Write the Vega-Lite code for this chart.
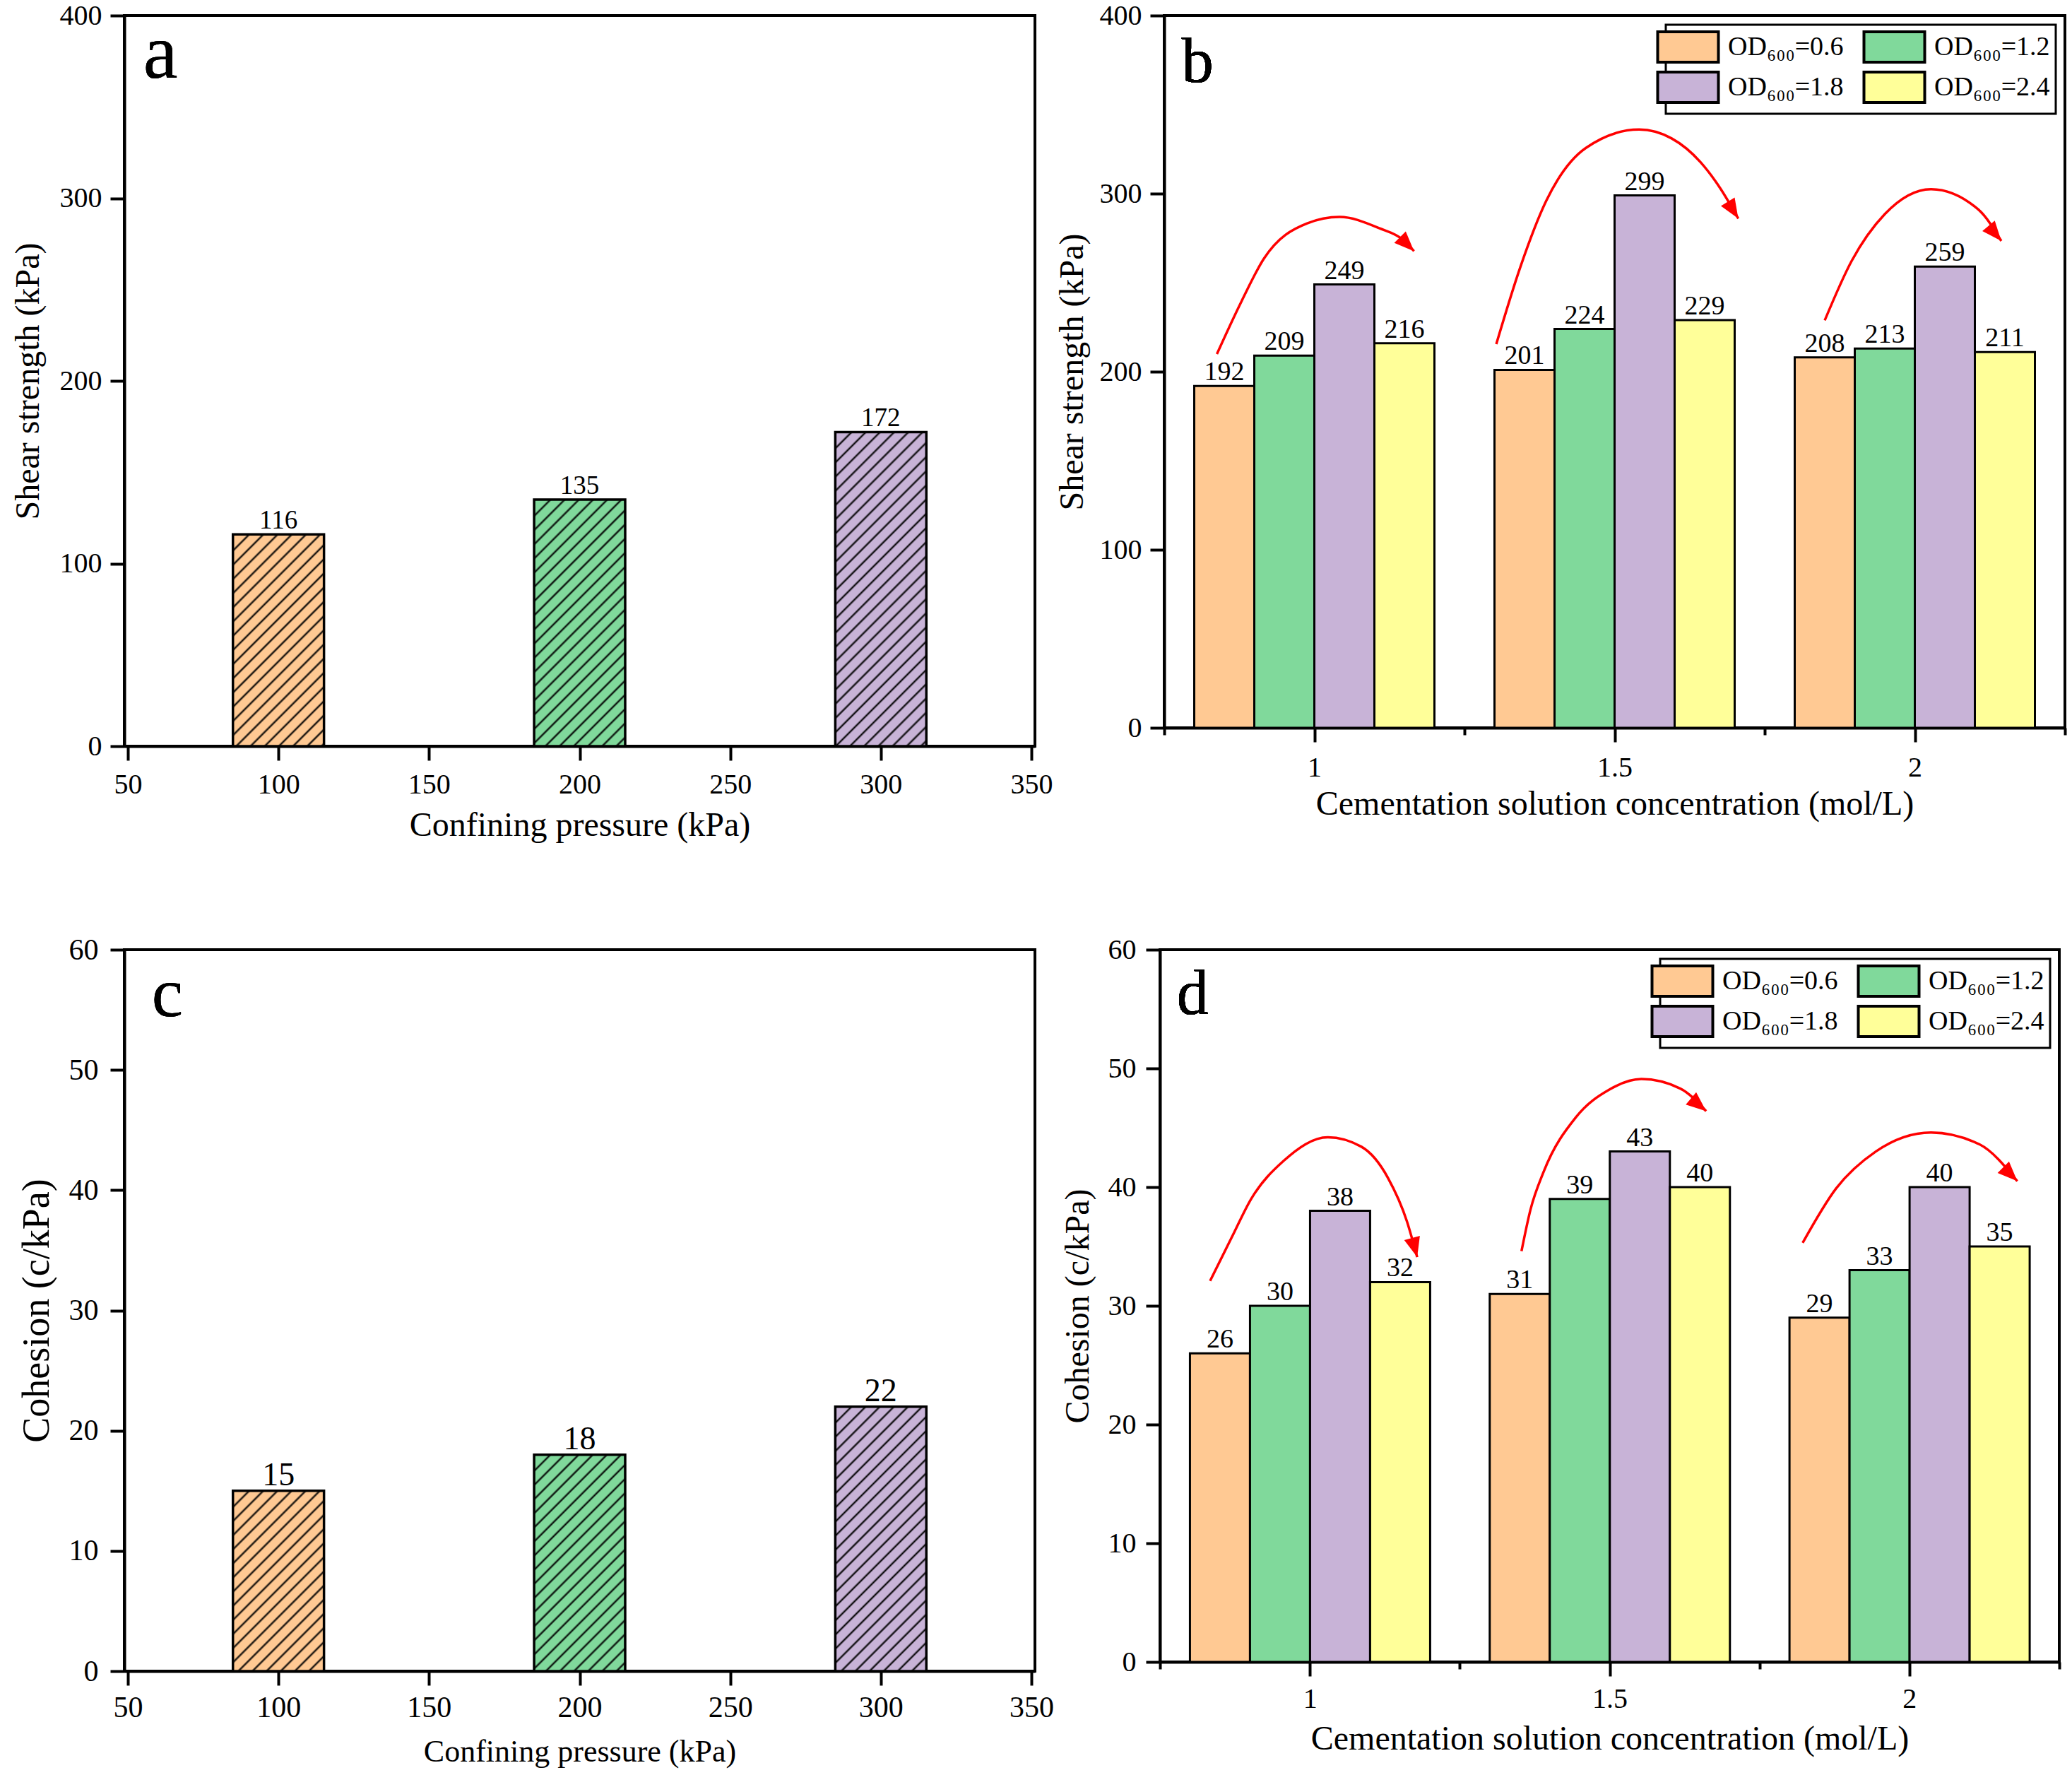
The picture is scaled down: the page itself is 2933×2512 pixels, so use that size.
{
  "$schema": "https://vega.github.io/schema/vega-lite/v6.json",
  "background": "white",
  "padding": {"left": 14, "top": 0, "right": 0, "bottom": 0},
  "config": {
    "font": "Liberation Serif",
    "view": {"stroke": "#000", "strokeWidth": 4},
    "axis": {
      "domainColor": "#000", "domainWidth": 4, "tickColor": "#000", "tickWidth": 4, "tickSize": 20,
      "labelFont": "Liberation Serif", "labelFontSize": 40, "labelColor": "#000",
      "titleFont": "Liberation Serif", "titleFontSize": 48, "titleFontWeight": "normal", "titleColor": "#000",
      "grid": false, "labelFlush": false, "labelOverlap": false
    },
    "legend": {
      "labelFont": "Liberation Serif", "labelFontSize": 38, "labelColor": "#000", "labelLimit": 400,
      "strokeColor": "#000", "strokeWidth": 3, "fillColor": "#fff", "padding": 8,
      "symbolStrokeColor": "#000", "symbolStrokeWidth": 4, "symbolOpacity": 1
    },
    "text": {"font": "Liberation Serif", "color": "#000"}
  },
  "datasets": {
    "shear": [{"p": 100, "v": 116}, {"p": 200, "v": 135}, {"p": 300, "v": 172}],
    "coh": [{"p": 100, "v": 15}, {"p": 200, "v": 18}, {"p": 300, "v": 22}],
    "shearOD": [
      {"c": "1", "od": "0.6", "v": 192}, {"c": "1", "od": "1.2", "v": 209}, {"c": "1", "od": "1.8", "v": 249}, {"c": "1", "od": "2.4", "v": 216},
      {"c": "1.5", "od": "0.6", "v": 201}, {"c": "1.5", "od": "1.2", "v": 224}, {"c": "1.5", "od": "1.8", "v": 299}, {"c": "1.5", "od": "2.4", "v": 229},
      {"c": "2", "od": "0.6", "v": 208}, {"c": "2", "od": "1.2", "v": 213}, {"c": "2", "od": "1.8", "v": 259}, {"c": "2", "od": "2.4", "v": 211}
    ],
    "cohOD": [
      {"c": "1", "od": "0.6", "v": 26}, {"c": "1", "od": "1.2", "v": 30}, {"c": "1", "od": "1.8", "v": 38}, {"c": "1", "od": "2.4", "v": 32},
      {"c": "1.5", "od": "0.6", "v": 31}, {"c": "1.5", "od": "1.2", "v": 39}, {"c": "1.5", "od": "1.8", "v": 43}, {"c": "1.5", "od": "2.4", "v": 40},
      {"c": "2", "od": "0.6", "v": 29}, {"c": "2", "od": "1.2", "v": 33}, {"c": "2", "od": "1.8", "v": 40}, {"c": "2", "od": "2.4", "v": 35}
    ],
    "shearArrows": [
      {"a": 1, "x": 0.8377, "v": 209.9}, {"a": 1, "x": 0.879, "v": 239.7}, {"a": 1, "x": 0.916, "v": 263.5}, {"a": 1, "x": 0.988, "v": 283.3}, {"a": 1, "x": 1.042, "v": 286.9}, {"a": 1, "x": 1.108, "v": 280.6}, {"a": 1, "x": 1.148, "v": 274}, {"a": 1, "x": 1.166, "v": 267.7},
      {"a": 2, "x": 1.303, "v": 215.5}, {"a": 2, "x": 1.343, "v": 258.7}, {"a": 2, "x": 1.386, "v": 295.8}, {"a": 2, "x": 1.452, "v": 325.6}, {"a": 2, "x": 1.541, "v": 336}, {"a": 2, "x": 1.595, "v": 331}, {"a": 2, "x": 1.643, "v": 317.7}, {"a": 2, "x": 1.676, "v": 303}, {"a": 2, "x": 1.706, "v": 286},
      {"a": 3, "x": 1.85, "v": 228.8}, {"a": 3, "x": 1.895, "v": 262.3}, {"a": 3, "x": 1.95, "v": 288.5}, {"a": 3, "x": 2.027, "v": 302.5}, {"a": 3, "x": 2.106, "v": 291}, {"a": 3, "x": 2.144, "v": 273.4}
    ],
    "shearHeads": [
      {"a": 1, "x": 1.166, "v": 267.7, "dir": 45}, {"a": 2, "x": 1.706, "v": 286, "dir": 58}, {"a": 3, "x": 2.144, "v": 273.4, "dir": 50}
    ],
    "cohArrows": [
      {"a": 1, "x": 0.8336, "v": 32.1}, {"a": 1, "x": 0.87, "v": 35.8}, {"a": 1, "x": 0.902, "v": 39}, {"a": 1, "x": 0.956, "v": 42.2}, {"a": 1, "x": 1.03, "v": 44.2}, {"a": 1, "x": 1.086, "v": 43.4}, {"a": 1, "x": 1.13, "v": 40.8}, {"a": 1, "x": 1.162, "v": 37.1}, {"a": 1, "x": 1.179, "v": 34.1},
      {"a": 2, "x": 1.353, "v": 34.6}, {"a": 2, "x": 1.368, "v": 38.1}, {"a": 2, "x": 1.39, "v": 41.3}, {"a": 2, "x": 1.444, "v": 45.9}, {"a": 2, "x": 1.499, "v": 48.2}, {"a": 2, "x": 1.553, "v": 49.1}, {"a": 2, "x": 1.618, "v": 48.3}, {"a": 2, "x": 1.661, "v": 46.4},
      {"a": 3, "x": 1.822, "v": 35.3}, {"a": 3, "x": 1.878, "v": 39.9}, {"a": 3, "x": 1.944, "v": 43}, {"a": 3, "x": 2.036, "v": 44.6}, {"a": 3, "x": 2.117, "v": 43.6}, {"a": 3, "x": 2.18, "v": 40.5}
    ],
    "cohHeads": [
      {"a": 1, "x": 1.179, "v": 34.1, "dir": 75}, {"a": 2, "x": 1.661, "v": 46.4, "dir": 40}, {"a": 3, "x": 2.18, "v": 40.5, "dir": 45}
    ]
  },
  "spacing": 127,
  "resolve": {"scale": {"color": "independent"}, "legend": {"color": "independent"}},
  "vconcat": [
    {
      "spacing": 0,
      "resolve": {"scale": {"color": "independent"}, "legend": {"color": "independent"}},
      "hconcat": [
        {
          "width": 1289, "height": 1034,
          "data": {"name": "shear"},
          "encoding": {
            "x": {"field": "p", "type": "quantitative", "scale": {"domain": [50, 350], "nice": false, "zero": false},
                  "axis": {"values": [50, 100, 150, 200, 250, 300, 350], "title": "Confining pressure (kPa)", "labelPadding": 14, "titlePadding": 14}},
            "y": {"field": "v", "type": "quantitative", "scale": {"domain": [0, 400], "nice": false},
                  "axis": {"values": [0, 100, 200, 300, 400], "title": "Shear strength (kPa)", "labelPadding": 12, "titlePadding": 20}}
          },
          "layer": [
            {"mark": {"type": "bar", "width": 128.9},
             "encoding": {"color": {"field": "p", "type": "nominal", "scale": {"domain": [100, 200, 300], "range": ["#FFC993", "#80D99B", "#C8B3D7"]}, "legend": null}}},
            {"transform": [{"filter": "datum.p == 100"}],
             "mark": {"type": "bar", "width": 128.9, "stroke": "#000", "strokeWidth": 3.5,
                      "fill": {"gradient": "linear", "x1": 0, "y1": 0, "x2": 1.094, "y2": 2.546, "stops": [
{"offset":0.0222,"color":"transparent"},{"offset":0.0257,"color":"#000"},{"offset":0.0292,"color":"transparent"},
{"offset":0.0444,"color":"transparent"},{"offset":0.0479,"color":"#000"},{"offset":0.0514,"color":"transparent"},
{"offset":0.0667,"color":"transparent"},{"offset":0.0702,"color":"#000"},{"offset":0.0737,"color":"transparent"},
{"offset":0.0889,"color":"transparent"},{"offset":0.0924,"color":"#000"},{"offset":0.0959,"color":"transparent"},
{"offset":0.1111,"color":"transparent"},{"offset":0.1146,"color":"#000"},{"offset":0.1181,"color":"transparent"},
{"offset":0.1333,"color":"transparent"},{"offset":0.1368,"color":"#000"},{"offset":0.1403,"color":"transparent"},
{"offset":0.1556,"color":"transparent"},{"offset":0.1591,"color":"#000"},{"offset":0.1626,"color":"transparent"},
{"offset":0.1778,"color":"transparent"},{"offset":0.1813,"color":"#000"},{"offset":0.1848,"color":"transparent"},
{"offset":0.2,"color":"transparent"},{"offset":0.2035,"color":"#000"},{"offset":0.207,"color":"transparent"},
{"offset":0.2222,"color":"transparent"},{"offset":0.2257,"color":"#000"},{"offset":0.2292,"color":"transparent"},
{"offset":0.2444,"color":"transparent"},{"offset":0.2479,"color":"#000"},{"offset":0.2514,"color":"transparent"},
{"offset":0.2667,"color":"transparent"},{"offset":0.2702,"color":"#000"},{"offset":0.2737,"color":"transparent"},
{"offset":0.2889,"color":"transparent"},{"offset":0.2924,"color":"#000"},{"offset":0.2959,"color":"transparent"},
{"offset":0.3111,"color":"transparent"},{"offset":0.3146,"color":"#000"},{"offset":0.3181,"color":"transparent"},
{"offset":0.3333,"color":"transparent"},{"offset":0.3368,"color":"#000"},{"offset":0.3403,"color":"transparent"},
{"offset":0.3556,"color":"transparent"},{"offset":0.3591,"color":"#000"},{"offset":0.3626,"color":"transparent"},
{"offset":0.3778,"color":"transparent"},{"offset":0.3813,"color":"#000"},{"offset":0.3848,"color":"transparent"},
{"offset":0.4,"color":"transparent"},{"offset":0.4035,"color":"#000"},{"offset":0.407,"color":"transparent"},
{"offset":0.4222,"color":"transparent"},{"offset":0.4257,"color":"#000"},{"offset":0.4292,"color":"transparent"},
{"offset":0.4444,"color":"transparent"},{"offset":0.4479,"color":"#000"},{"offset":0.4514,"color":"transparent"},
{"offset":0.4667,"color":"transparent"},{"offset":0.4702,"color":"#000"},{"offset":0.4737,"color":"transparent"}
                      ]}}},
            {"transform": [{"filter": "datum.p == 200"}],
             "mark": {"type": "bar", "width": 128.9, "stroke": "#000", "strokeWidth": 3.5,
                      "fill": {"gradient": "linear", "x1": 0, "y1": 0, "x2": 0.8424, "y2": 2.2805, "stops": [
{"offset":0.0222,"color":"transparent"},{"offset":0.0257,"color":"#000"},{"offset":0.0292,"color":"transparent"},
{"offset":0.0444,"color":"transparent"},{"offset":0.0479,"color":"#000"},{"offset":0.0514,"color":"transparent"},
{"offset":0.0667,"color":"transparent"},{"offset":0.0702,"color":"#000"},{"offset":0.0737,"color":"transparent"},
{"offset":0.0889,"color":"transparent"},{"offset":0.0924,"color":"#000"},{"offset":0.0959,"color":"transparent"},
{"offset":0.1111,"color":"transparent"},{"offset":0.1146,"color":"#000"},{"offset":0.1181,"color":"transparent"},
{"offset":0.1333,"color":"transparent"},{"offset":0.1368,"color":"#000"},{"offset":0.1403,"color":"transparent"},
{"offset":0.1556,"color":"transparent"},{"offset":0.1591,"color":"#000"},{"offset":0.1626,"color":"transparent"},
{"offset":0.1778,"color":"transparent"},{"offset":0.1813,"color":"#000"},{"offset":0.1848,"color":"transparent"},
{"offset":0.2,"color":"transparent"},{"offset":0.2035,"color":"#000"},{"offset":0.207,"color":"transparent"},
{"offset":0.2222,"color":"transparent"},{"offset":0.2257,"color":"#000"},{"offset":0.2292,"color":"transparent"},
{"offset":0.2444,"color":"transparent"},{"offset":0.2479,"color":"#000"},{"offset":0.2514,"color":"transparent"},
{"offset":0.2667,"color":"transparent"},{"offset":0.2702,"color":"#000"},{"offset":0.2737,"color":"transparent"},
{"offset":0.2889,"color":"transparent"},{"offset":0.2924,"color":"#000"},{"offset":0.2959,"color":"transparent"},
{"offset":0.3111,"color":"transparent"},{"offset":0.3146,"color":"#000"},{"offset":0.3181,"color":"transparent"},
{"offset":0.3333,"color":"transparent"},{"offset":0.3368,"color":"#000"},{"offset":0.3403,"color":"transparent"},
{"offset":0.3556,"color":"transparent"},{"offset":0.3591,"color":"#000"},{"offset":0.3626,"color":"transparent"},
{"offset":0.3778,"color":"transparent"},{"offset":0.3813,"color":"#000"},{"offset":0.3848,"color":"transparent"},
{"offset":0.4,"color":"transparent"},{"offset":0.4035,"color":"#000"},{"offset":0.407,"color":"transparent"},
{"offset":0.4222,"color":"transparent"},{"offset":0.4257,"color":"#000"},{"offset":0.4292,"color":"transparent"},
{"offset":0.4444,"color":"transparent"},{"offset":0.4479,"color":"#000"},{"offset":0.4514,"color":"transparent"},
{"offset":0.4667,"color":"transparent"},{"offset":0.4702,"color":"#000"},{"offset":0.4737,"color":"transparent"},
{"offset":0.4889,"color":"transparent"},{"offset":0.4924,"color":"#000"},{"offset":0.4959,"color":"transparent"},
{"offset":0.5111,"color":"transparent"},{"offset":0.5146,"color":"#000"},{"offset":0.5181,"color":"transparent"},
{"offset":0.5333,"color":"transparent"},{"offset":0.5368,"color":"#000"},{"offset":0.5403,"color":"transparent"}
                      ]}}},
            {"transform": [{"filter": "datum.p == 300"}],
             "mark": {"type": "bar", "width": 128.9, "stroke": "#000", "strokeWidth": 3.5,
                      "fill": {"gradient": "linear", "x1": 0, "y1": 0, "x2": 0.5441, "y2": 1.8763, "stops": [
{"offset":0.0222,"color":"transparent"},{"offset":0.0257,"color":"#000"},{"offset":0.0292,"color":"transparent"},
{"offset":0.0444,"color":"transparent"},{"offset":0.0479,"color":"#000"},{"offset":0.0514,"color":"transparent"},
{"offset":0.0667,"color":"transparent"},{"offset":0.0702,"color":"#000"},{"offset":0.0737,"color":"transparent"},
{"offset":0.0889,"color":"transparent"},{"offset":0.0924,"color":"#000"},{"offset":0.0959,"color":"transparent"},
{"offset":0.1111,"color":"transparent"},{"offset":0.1146,"color":"#000"},{"offset":0.1181,"color":"transparent"},
{"offset":0.1333,"color":"transparent"},{"offset":0.1368,"color":"#000"},{"offset":0.1403,"color":"transparent"},
{"offset":0.1556,"color":"transparent"},{"offset":0.1591,"color":"#000"},{"offset":0.1626,"color":"transparent"},
{"offset":0.1778,"color":"transparent"},{"offset":0.1813,"color":"#000"},{"offset":0.1848,"color":"transparent"},
{"offset":0.2,"color":"transparent"},{"offset":0.2035,"color":"#000"},{"offset":0.207,"color":"transparent"},
{"offset":0.2222,"color":"transparent"},{"offset":0.2257,"color":"#000"},{"offset":0.2292,"color":"transparent"},
{"offset":0.2444,"color":"transparent"},{"offset":0.2479,"color":"#000"},{"offset":0.2514,"color":"transparent"},
{"offset":0.2667,"color":"transparent"},{"offset":0.2702,"color":"#000"},{"offset":0.2737,"color":"transparent"},
{"offset":0.2889,"color":"transparent"},{"offset":0.2924,"color":"#000"},{"offset":0.2959,"color":"transparent"},
{"offset":0.3111,"color":"transparent"},{"offset":0.3146,"color":"#000"},{"offset":0.3181,"color":"transparent"},
{"offset":0.3333,"color":"transparent"},{"offset":0.3368,"color":"#000"},{"offset":0.3403,"color":"transparent"},
{"offset":0.3556,"color":"transparent"},{"offset":0.3591,"color":"#000"},{"offset":0.3626,"color":"transparent"},
{"offset":0.3778,"color":"transparent"},{"offset":0.3813,"color":"#000"},{"offset":0.3848,"color":"transparent"},
{"offset":0.4,"color":"transparent"},{"offset":0.4035,"color":"#000"},{"offset":0.407,"color":"transparent"},
{"offset":0.4222,"color":"transparent"},{"offset":0.4257,"color":"#000"},{"offset":0.4292,"color":"transparent"},
{"offset":0.4444,"color":"transparent"},{"offset":0.4479,"color":"#000"},{"offset":0.4514,"color":"transparent"},
{"offset":0.4667,"color":"transparent"},{"offset":0.4702,"color":"#000"},{"offset":0.4737,"color":"transparent"},
{"offset":0.4889,"color":"transparent"},{"offset":0.4924,"color":"#000"},{"offset":0.4959,"color":"transparent"},
{"offset":0.5111,"color":"transparent"},{"offset":0.5146,"color":"#000"},{"offset":0.5181,"color":"transparent"},
{"offset":0.5333,"color":"transparent"},{"offset":0.5368,"color":"#000"},{"offset":0.5403,"color":"transparent"},
{"offset":0.5556,"color":"transparent"},{"offset":0.5591,"color":"#000"},{"offset":0.5626,"color":"transparent"},
{"offset":0.5778,"color":"transparent"},{"offset":0.5813,"color":"#000"},{"offset":0.5848,"color":"transparent"},
{"offset":0.6,"color":"transparent"},{"offset":0.6035,"color":"#000"},{"offset":0.607,"color":"transparent"},
{"offset":0.6222,"color":"transparent"},{"offset":0.6257,"color":"#000"},{"offset":0.6292,"color":"transparent"}
                      ]}}},
            {"mark": {"type": "text", "dy": -8, "baseline": "alphabetic", "fontSize": 37},
             "encoding": {"text": {"field": "v", "type": "quantitative"}}},
            {"mark": {"type": "text", "text": "a", "fontSize": 110, "align": "left", "baseline": "alphabetic"},
             "encoding": {"x": {"datum": 55.1, "type": "quantitative"}, "y": {"datum": 366, "type": "quantitative"}}}
          ]
        },
        {
          "width": 1275, "height": 1008,
          "data": {"name": "shearOD"},
          "resolve": {"scale": {"x": "independent"}},
          "layer": [
            {"mark": {"type": "bar", "stroke": "#000", "strokeWidth": 3},
             "encoding": {
               "x": {"field": "c", "type": "ordinal", "scale": {"domain": ["1", "1.5", "2"], "paddingInner": 0.2, "paddingOuter": 0.1}, "axis": null},
               "xOffset": {"field": "od", "type": "nominal"},
               "y": {"field": "v", "type": "quantitative", "scale": {"domain": [0, 400], "nice": false},
                     "axis": {"values": [0, 100, 200, 300, 400], "title": "Shear strength (kPa)", "labelPadding": 12, "titlePadding": 14}},
               "color": {"field": "od", "type": "nominal",
                         "scale": {"domain": ["0.6", "1.2", "1.8", "2.4"], "range": ["#FFC993", "#80D99B", "#C8B3D7", "#FFFF99"]},
                         "legend": {"title": null, "orient": "top-right", "direction": "horizontal", "columns": 2, "offset": 13, "labelExpr": "'OD₆₀₀=' + datum.label",
                                    "symbolType": "M-2,-1H2V1H-2Z", "symbolSize": 1849, "labelOffset": 33, "columnPadding": 20, "rowPadding": -2}}
             }},
            {"mark": {"type": "text", "dy": -8, "baseline": "alphabetic", "fontSize": 38},
             "encoding": {
               "x": {"field": "c", "type": "ordinal", "scale": {"domain": ["1", "1.5", "2"], "paddingInner": 0.2, "paddingOuter": 0.1}, "axis": null},
               "xOffset": {"field": "od", "type": "nominal"},
               "y": {"field": "v", "type": "quantitative", "scale": {"domain": [0, 400], "nice": false}},
               "text": {"field": "v", "type": "quantitative"}
             }},
            {"data": {"name": "shearArrows"},
             "mark": {"type": "line", "color": "#FF0000", "strokeWidth": 3.5, "interpolate": "monotone"},
             "encoding": {
               "x": {"field": "x", "type": "quantitative", "scale": {"domain": [0.75, 2.25], "nice": false, "zero": false},
                     "axis": {"orient": "bottom", "values": [0.75, 1, 1.25, 1.5, 1.75, 2, 2.25],
                              "labelExpr": "datum.value == 1 ? '1' : datum.value == 1.5 ? '1.5' : datum.value == 2 ? '2' : ''",
                              "tickSize": {"condition": {"test": "datum.value == 1 || datum.value == 1.5 || datum.value == 2", "value": 20}, "value": 10},
                              "labelPadding": 16, "titlePadding": 8, "title": "Cementation solution concentration (mol/L)"}},
               "y": {"field": "v", "type": "quantitative", "scale": {"domain": [0, 400], "nice": false}},
               "detail": {"field": "a", "type": "nominal"}
             }},
            {"data": {"name": "shearHeads"},
             "mark": {"type": "point", "shape": "M0,0L-2.2,-0.9L-2.2,0.9Z", "filled": true, "color": "#FF0000", "size": 650, "opacity": 1},
             "encoding": {
               "x": {"field": "x", "type": "quantitative", "scale": {"domain": [0.75, 2.25], "nice": false, "zero": false}, "axis": null},
               "y": {"field": "v", "type": "quantitative", "scale": {"domain": [0, 400], "nice": false}},
               "angle": {"field": "dir", "type": "quantitative", "scale": null}
             }},
            {"mark": {"type": "text", "text": "b", "fontSize": 90, "align": "left", "baseline": "alphabetic"},
             "encoding": {
               "x": {"datum": 0.779, "type": "quantitative", "scale": {"domain": [0.75, 2.25], "nice": false, "zero": false}, "axis": null},
               "y": {"datum": 362.7, "type": "quantitative"}
             }}
          ]
        }
      ]
    },
    {
      "spacing": 6,
      "resolve": {"scale": {"color": "independent"}, "legend": {"color": "independent"}},
      "hconcat": [
        {
          "width": 1289, "height": 1021,
          "data": {"name": "coh"},
          "encoding": {
            "x": {"field": "p", "type": "quantitative", "scale": {"domain": [50, 350], "nice": false, "zero": false},
                  "axis": {"values": [50, 100, 150, 200, 250, 300, 350], "title": "Confining pressure (kPa)", "labelFontSize": 42, "titleFontSize": 44, "labelPadding": 11, "titlePadding": 20}},
            "y": {"field": "v", "type": "quantitative", "scale": {"domain": [0, 60], "nice": false},
                  "axis": {"values": [0, 10, 20, 30, 40, 50, 60], "title": "Cohesion (c/kPa)", "labelFontSize": 42, "titleFontSize": 54, "labelPadding": 17, "titlePadding": 18}}
          },
          "layer": [
            {"mark": {"type": "bar", "width": 128.9},
             "encoding": {"color": {"field": "p", "type": "nominal", "scale": {"domain": [100, 200, 300], "range": ["#FFC993", "#80D99B", "#C8B3D7"]}, "legend": null}}},
            {"transform": [{"filter": "datum.p == 100"}],
             "mark": {"type": "bar", "width": 128.9, "stroke": "#000", "strokeWidth": 3.5,
                      "fill": {"gradient": "linear", "x1": 0, "y1": 0, "x2": 1.4174, "y2": 2.8073, "stops": [
{"offset":0.0222,"color":"transparent"},{"offset":0.0257,"color":"#000"},{"offset":0.0292,"color":"transparent"},
{"offset":0.0444,"color":"transparent"},{"offset":0.0479,"color":"#000"},{"offset":0.0514,"color":"transparent"},
{"offset":0.0667,"color":"transparent"},{"offset":0.0702,"color":"#000"},{"offset":0.0737,"color":"transparent"},
{"offset":0.0889,"color":"transparent"},{"offset":0.0924,"color":"#000"},{"offset":0.0959,"color":"transparent"},
{"offset":0.1111,"color":"transparent"},{"offset":0.1146,"color":"#000"},{"offset":0.1181,"color":"transparent"},
{"offset":0.1333,"color":"transparent"},{"offset":0.1368,"color":"#000"},{"offset":0.1403,"color":"transparent"},
{"offset":0.1556,"color":"transparent"},{"offset":0.1591,"color":"#000"},{"offset":0.1626,"color":"transparent"},
{"offset":0.1778,"color":"transparent"},{"offset":0.1813,"color":"#000"},{"offset":0.1848,"color":"transparent"},
{"offset":0.2,"color":"transparent"},{"offset":0.2035,"color":"#000"},{"offset":0.207,"color":"transparent"},
{"offset":0.2222,"color":"transparent"},{"offset":0.2257,"color":"#000"},{"offset":0.2292,"color":"transparent"},
{"offset":0.2444,"color":"transparent"},{"offset":0.2479,"color":"#000"},{"offset":0.2514,"color":"transparent"},
{"offset":0.2667,"color":"transparent"},{"offset":0.2702,"color":"#000"},{"offset":0.2737,"color":"transparent"},
{"offset":0.2889,"color":"transparent"},{"offset":0.2924,"color":"#000"},{"offset":0.2959,"color":"transparent"},
{"offset":0.3111,"color":"transparent"},{"offset":0.3146,"color":"#000"},{"offset":0.3181,"color":"transparent"},
{"offset":0.3333,"color":"transparent"},{"offset":0.3368,"color":"#000"},{"offset":0.3403,"color":"transparent"},
{"offset":0.3556,"color":"transparent"},{"offset":0.3591,"color":"#000"},{"offset":0.3626,"color":"transparent"},
{"offset":0.3778,"color":"transparent"},{"offset":0.3813,"color":"#000"},{"offset":0.3848,"color":"transparent"},
{"offset":0.4,"color":"transparent"},{"offset":0.4035,"color":"#000"},{"offset":0.407,"color":"transparent"},
{"offset":0.4222,"color":"transparent"},{"offset":0.4257,"color":"#000"},{"offset":0.4292,"color":"transparent"}
                      ]}}},
            {"transform": [{"filter": "datum.p == 200"}],
             "mark": {"type": "bar", "width": 128.9, "stroke": "#000", "strokeWidth": 3.5,
                      "fill": {"gradient": "linear", "x1": 0, "y1": 0, "x2": 1.0498, "y2": 2.4946, "stops": [
{"offset":0.0222,"color":"transparent"},{"offset":0.0257,"color":"#000"},{"offset":0.0292,"color":"transparent"},
{"offset":0.0444,"color":"transparent"},{"offset":0.0479,"color":"#000"},{"offset":0.0514,"color":"transparent"},
{"offset":0.0667,"color":"transparent"},{"offset":0.0702,"color":"#000"},{"offset":0.0737,"color":"transparent"},
{"offset":0.0889,"color":"transparent"},{"offset":0.0924,"color":"#000"},{"offset":0.0959,"color":"transparent"},
{"offset":0.1111,"color":"transparent"},{"offset":0.1146,"color":"#000"},{"offset":0.1181,"color":"transparent"},
{"offset":0.1333,"color":"transparent"},{"offset":0.1368,"color":"#000"},{"offset":0.1403,"color":"transparent"},
{"offset":0.1556,"color":"transparent"},{"offset":0.1591,"color":"#000"},{"offset":0.1626,"color":"transparent"},
{"offset":0.1778,"color":"transparent"},{"offset":0.1813,"color":"#000"},{"offset":0.1848,"color":"transparent"},
{"offset":0.2,"color":"transparent"},{"offset":0.2035,"color":"#000"},{"offset":0.207,"color":"transparent"},
{"offset":0.2222,"color":"transparent"},{"offset":0.2257,"color":"#000"},{"offset":0.2292,"color":"transparent"},
{"offset":0.2444,"color":"transparent"},{"offset":0.2479,"color":"#000"},{"offset":0.2514,"color":"transparent"},
{"offset":0.2667,"color":"transparent"},{"offset":0.2702,"color":"#000"},{"offset":0.2737,"color":"transparent"},
{"offset":0.2889,"color":"transparent"},{"offset":0.2924,"color":"#000"},{"offset":0.2959,"color":"transparent"},
{"offset":0.3111,"color":"transparent"},{"offset":0.3146,"color":"#000"},{"offset":0.3181,"color":"transparent"},
{"offset":0.3333,"color":"transparent"},{"offset":0.3368,"color":"#000"},{"offset":0.3403,"color":"transparent"},
{"offset":0.3556,"color":"transparent"},{"offset":0.3591,"color":"#000"},{"offset":0.3626,"color":"transparent"},
{"offset":0.3778,"color":"transparent"},{"offset":0.3813,"color":"#000"},{"offset":0.3848,"color":"transparent"},
{"offset":0.4,"color":"transparent"},{"offset":0.4035,"color":"#000"},{"offset":0.407,"color":"transparent"},
{"offset":0.4222,"color":"transparent"},{"offset":0.4257,"color":"#000"},{"offset":0.4292,"color":"transparent"},
{"offset":0.4444,"color":"transparent"},{"offset":0.4479,"color":"#000"},{"offset":0.4514,"color":"transparent"},
{"offset":0.4667,"color":"transparent"},{"offset":0.4702,"color":"#000"},{"offset":0.4737,"color":"transparent"}
                      ]}}},
            {"transform": [{"filter": "datum.p == 300"}],
             "mark": {"type": "bar", "width": 128.9, "stroke": "#000", "strokeWidth": 3.5,
                      "fill": {"gradient": "linear", "x1": 0, "y1": 0, "x2": 0.7394, "y2": 2.1477, "stops": [
{"offset":0.0222,"color":"transparent"},{"offset":0.0257,"color":"#000"},{"offset":0.0292,"color":"transparent"},
{"offset":0.0444,"color":"transparent"},{"offset":0.0479,"color":"#000"},{"offset":0.0514,"color":"transparent"},
{"offset":0.0667,"color":"transparent"},{"offset":0.0702,"color":"#000"},{"offset":0.0737,"color":"transparent"},
{"offset":0.0889,"color":"transparent"},{"offset":0.0924,"color":"#000"},{"offset":0.0959,"color":"transparent"},
{"offset":0.1111,"color":"transparent"},{"offset":0.1146,"color":"#000"},{"offset":0.1181,"color":"transparent"},
{"offset":0.1333,"color":"transparent"},{"offset":0.1368,"color":"#000"},{"offset":0.1403,"color":"transparent"},
{"offset":0.1556,"color":"transparent"},{"offset":0.1591,"color":"#000"},{"offset":0.1626,"color":"transparent"},
{"offset":0.1778,"color":"transparent"},{"offset":0.1813,"color":"#000"},{"offset":0.1848,"color":"transparent"},
{"offset":0.2,"color":"transparent"},{"offset":0.2035,"color":"#000"},{"offset":0.207,"color":"transparent"},
{"offset":0.2222,"color":"transparent"},{"offset":0.2257,"color":"#000"},{"offset":0.2292,"color":"transparent"},
{"offset":0.2444,"color":"transparent"},{"offset":0.2479,"color":"#000"},{"offset":0.2514,"color":"transparent"},
{"offset":0.2667,"color":"transparent"},{"offset":0.2702,"color":"#000"},{"offset":0.2737,"color":"transparent"},
{"offset":0.2889,"color":"transparent"},{"offset":0.2924,"color":"#000"},{"offset":0.2959,"color":"transparent"},
{"offset":0.3111,"color":"transparent"},{"offset":0.3146,"color":"#000"},{"offset":0.3181,"color":"transparent"},
{"offset":0.3333,"color":"transparent"},{"offset":0.3368,"color":"#000"},{"offset":0.3403,"color":"transparent"},
{"offset":0.3556,"color":"transparent"},{"offset":0.3591,"color":"#000"},{"offset":0.3626,"color":"transparent"},
{"offset":0.3778,"color":"transparent"},{"offset":0.3813,"color":"#000"},{"offset":0.3848,"color":"transparent"},
{"offset":0.4,"color":"transparent"},{"offset":0.4035,"color":"#000"},{"offset":0.407,"color":"transparent"},
{"offset":0.4222,"color":"transparent"},{"offset":0.4257,"color":"#000"},{"offset":0.4292,"color":"transparent"},
{"offset":0.4444,"color":"transparent"},{"offset":0.4479,"color":"#000"},{"offset":0.4514,"color":"transparent"},
{"offset":0.4667,"color":"transparent"},{"offset":0.4702,"color":"#000"},{"offset":0.4737,"color":"transparent"},
{"offset":0.4889,"color":"transparent"},{"offset":0.4924,"color":"#000"},{"offset":0.4959,"color":"transparent"},
{"offset":0.5111,"color":"transparent"},{"offset":0.5146,"color":"#000"},{"offset":0.5181,"color":"transparent"},
{"offset":0.5333,"color":"transparent"},{"offset":0.5368,"color":"#000"},{"offset":0.5403,"color":"transparent"},
{"offset":0.5556,"color":"transparent"},{"offset":0.5591,"color":"#000"},{"offset":0.5626,"color":"transparent"}
                      ]}}},
            {"mark": {"type": "text", "dy": -8, "baseline": "alphabetic", "fontSize": 46},
             "encoding": {"text": {"field": "v", "type": "quantitative"}}},
            {"mark": {"type": "text", "text": "c", "fontSize": 100, "align": "left", "baseline": "alphabetic"},
             "encoding": {"x": {"datum": 57.9, "type": "quantitative"}, "y": {"datum": 54.5, "type": "quantitative"}}}
          ]
        },
        {
          "width": 1273, "height": 1008,
          "data": {"name": "cohOD"},
          "resolve": {"scale": {"x": "independent"}},
          "layer": [
            {"mark": {"type": "bar", "stroke": "#000", "strokeWidth": 3},
             "encoding": {
               "x": {"field": "c", "type": "ordinal", "scale": {"domain": ["1", "1.5", "2"], "paddingInner": 0.2, "paddingOuter": 0.1}, "axis": null},
               "xOffset": {"field": "od", "type": "nominal"},
               "y": {"field": "v", "type": "quantitative", "scale": {"domain": [0, 60], "nice": false},
                     "axis": {"values": [0, 10, 20, 30, 40, 50, 60], "title": "Cohesion (c/kPa)", "labelPadding": 14, "titlePadding": 18}},
               "color": {"field": "od", "type": "nominal",
                         "scale": {"domain": ["0.6", "1.2", "1.8", "2.4"], "range": ["#FFC993", "#80D99B", "#C8B3D7", "#FFFF99"]},
                         "legend": {"title": null, "orient": "top-right", "direction": "horizontal", "columns": 2, "offset": 13, "labelExpr": "'OD₆₀₀=' + datum.label",
                                    "symbolType": "M-2,-1H2V1H-2Z", "symbolSize": 1849, "labelOffset": 33, "columnPadding": 20, "rowPadding": -2}}
             }},
            {"mark": {"type": "text", "dy": -8, "baseline": "alphabetic", "fontSize": 38},
             "encoding": {
               "x": {"field": "c", "type": "ordinal", "scale": {"domain": ["1", "1.5", "2"], "paddingInner": 0.2, "paddingOuter": 0.1}, "axis": null},
               "xOffset": {"field": "od", "type": "nominal"},
               "y": {"field": "v", "type": "quantitative", "scale": {"domain": [0, 60], "nice": false}},
               "text": {"field": "v", "type": "quantitative"}
             }},
            {"data": {"name": "cohArrows"},
             "mark": {"type": "line", "color": "#FF0000", "strokeWidth": 3.5, "interpolate": "monotone"},
             "encoding": {
               "x": {"field": "x", "type": "quantitative", "scale": {"domain": [0.75, 2.25], "nice": false, "zero": false},
                     "axis": {"orient": "bottom", "values": [0.75, 1, 1.25, 1.5, 1.75, 2, 2.25],
                              "labelExpr": "datum.value == 1 ? '1' : datum.value == 1.5 ? '1.5' : datum.value == 2 ? '2' : ''",
                              "tickSize": {"condition": {"test": "datum.value == 1 || datum.value == 1.5 || datum.value == 2", "value": 20}, "value": 10},
                              "labelPadding": 12, "titlePadding": 13, "title": "Cementation solution concentration (mol/L)"}},
               "y": {"field": "v", "type": "quantitative", "scale": {"domain": [0, 60], "nice": false}},
               "detail": {"field": "a", "type": "nominal"}
             }},
            {"data": {"name": "cohHeads"},
             "mark": {"type": "point", "shape": "M0,0L-2.2,-0.9L-2.2,0.9Z", "filled": true, "color": "#FF0000", "size": 650, "opacity": 1},
             "encoding": {
               "x": {"field": "x", "type": "quantitative", "scale": {"domain": [0.75, 2.25], "nice": false, "zero": false}, "axis": null},
               "y": {"field": "v", "type": "quantitative", "scale": {"domain": [0, 60], "nice": false}},
               "angle": {"field": "dir", "type": "quantitative", "scale": null}
             }},
            {"mark": {"type": "text", "text": "d", "fontSize": 90, "align": "left", "baseline": "alphabetic"},
             "encoding": {
               "x": {"datum": 0.778, "type": "quantitative", "scale": {"domain": [0.75, 2.25], "nice": false, "zero": false}, "axis": null},
               "y": {"datum": 54.6, "type": "quantitative"}
             }}
          ]
        }
      ]
    }
  ]
}
